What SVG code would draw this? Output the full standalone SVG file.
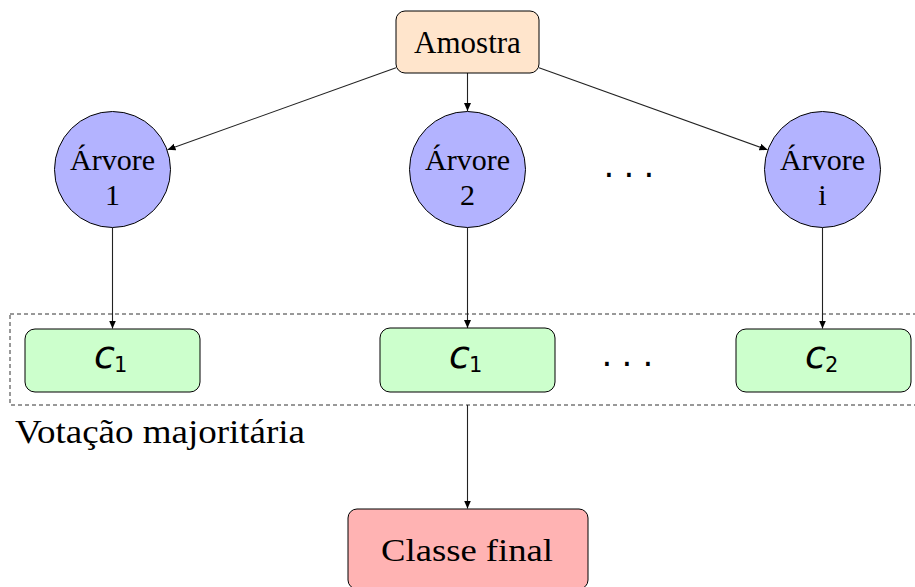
<svg xmlns="http://www.w3.org/2000/svg" width="915" height="587" viewBox="0 0 915 587">
<style>
.serif{font-family:"Liberation Serif","Times New Roman",serif;fill:#000}
.math{font-family:"DejaVu Sans",sans-serif;fill:#000}
.node{stroke:#000;stroke-width:1}
.edge{stroke:#222;stroke-width:1.1;fill:none;marker-end:url(#arr)}
</style>
<defs>
<marker id="arr" markerUnits="userSpaceOnUse" markerWidth="10" markerHeight="8" refX="8" refY="3.5" orient="auto">
<path d="M0,0 L8,3.5 L0,7 Z" fill="#000"/>
</marker>
</defs>
<rect x="10" y="314" width="916" height="91" fill="none" stroke="#333" stroke-width="1" stroke-dasharray="4,3"/>
<text class="serif" x="15" y="443" font-size="33" textLength="290" lengthAdjust="spacingAndGlyphs">Votação majoritária</text>
<g id="connectors">
<line class="edge" x1="467.5" y1="73" x2="467.5" y2="111"/>
<line class="edge" x1="396" y1="67.7" x2="167.5" y2="149.8"/>
<line class="edge" x1="539" y1="67.7" x2="767.5" y2="149.8"/>
<line class="edge" x1="112.5" y1="227.5" x2="112.5" y2="328.5"/>
<line class="edge" x1="467.5" y1="227.5" x2="467.5" y2="328"/>
<line class="edge" x1="822.5" y1="227.5" x2="822.5" y2="328.5"/>
<line class="edge" x1="467.5" y1="405" x2="467.5" y2="508.5"/>
</g>
<g id="amostra">
<rect class="node" x="396" y="11" width="143" height="62" rx="9" fill="#FFE5CC"/>
<text class="serif" x="467.5" y="53" font-size="31" text-anchor="middle">Amostra</text>
</g>
<g id="arvore1">
<circle class="node" cx="112.5" cy="169.5" r="58" fill="#B3B3FF"/>
<text class="serif" x="112.5" y="170" font-size="30" text-anchor="middle">Árvore</text>
<text class="serif" x="112.5" y="205" font-size="30" text-anchor="middle">1</text>
</g>
<g id="arvore2">
<circle class="node" cx="467.5" cy="169.5" r="58" fill="#B3B3FF"/>
<text class="serif" x="467.5" y="170" font-size="30" text-anchor="middle">Árvore</text>
<text class="serif" x="467.5" y="205" font-size="30" text-anchor="middle">2</text>
</g>
<g id="dots-top">
<text class="math" x="609 629 649" y="177" font-size="34" text-anchor="middle">...</text>
</g>
<g id="arvorei">
<circle class="node" cx="822.5" cy="169.5" r="58" fill="#B3B3FF"/>
<text class="serif" x="822.5" y="170" font-size="30" text-anchor="middle">Árvore</text>
<text class="serif" x="822.5" y="205" font-size="30" text-anchor="middle">i</text>
</g>
<g id="voto1">
<rect class="node" x="25" y="329" width="175" height="63" rx="10" fill="#CCFFCC"/>
<text class="math" x="94" y="368" font-size="38"><tspan font-style="italic">c</tspan><tspan font-size="21" dx="-1" dy="4">1</tspan></text>
</g>
<g id="voto2">
<rect class="node" x="380" y="328" width="175" height="64" rx="10" fill="#CCFFCC"/>
<text class="math" x="449" y="368" font-size="38"><tspan font-style="italic">c</tspan><tspan font-size="21" dx="-1" dy="4">1</tspan></text>
</g>
<g id="dots-bottom">
<text class="math" x="607 627 648" y="366" font-size="34" text-anchor="middle">...</text>
</g>
<g id="voto3">
<rect class="node" x="736" y="329" width="175" height="63" rx="10" fill="#CCFFCC"/>
<text class="math" x="805" y="368" font-size="38"><tspan font-style="italic">c</tspan><tspan font-size="21" dx="-1" dy="4">2</tspan></text>
</g>
<g id="classe">
<rect class="node" x="348" y="509" width="240" height="80" rx="9" fill="#FFB3B3"/>
<text class="serif" x="381" y="561" font-size="32" textLength="172" lengthAdjust="spacingAndGlyphs">Classe final</text>
</g>
</svg>
